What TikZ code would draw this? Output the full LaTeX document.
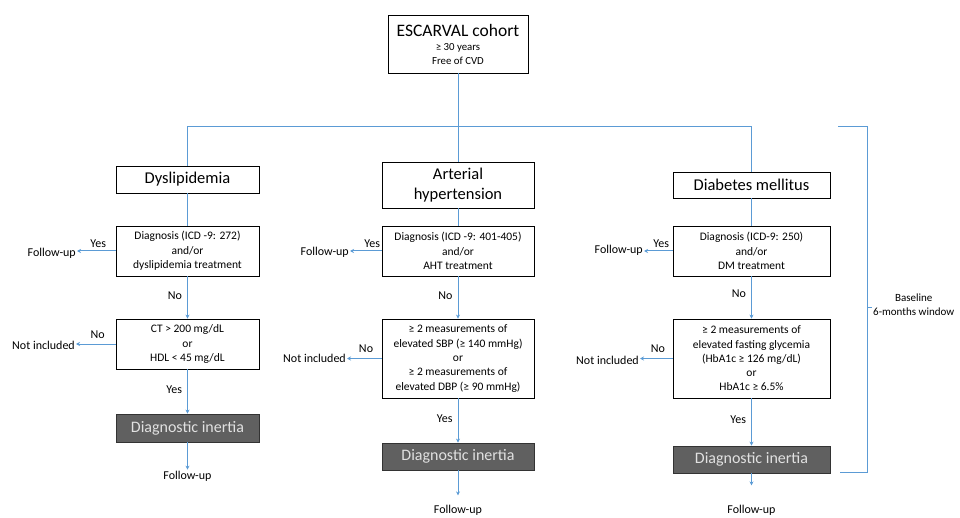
\documentclass[tikz,border=0pt]{standalone}
\usepackage{fontspec}
\setmainfont{Carlito}
\usetikzlibrary{arrows.meta}
\definecolor{lnblue}{RGB}{91,155,213}
\definecolor{digray}{RGB}{96,96,96}
\definecolor{ditext}{RGB}{225,225,225}
\tikzset{
  box/.style={draw=black, line width=0.8pt, fill=white, align=center, inner sep=1pt, font=\fontsize{11.5}{14.3}\selectfont},
  catbox/.style={box, font=\fontsize{16.5}{20}\selectfont},
  dibox/.style={draw=black!80, line width=0.8pt, fill=digray, text=ditext, align=center, inner sep=1pt, font=\fontsize{16}{19}\selectfont},
  lbl/.style={font=\fontsize{12}{14}\selectfont, inner sep=1pt},
  conn/.style={draw=lnblue, line width=1pt},
  arr/.style={conn, -{Stealth[length=4pt,width=4pt]}}
}
\begin{document}
\begin{tikzpicture}[x=1pt,y=-1pt]
\useasboundingbox (0,0) rectangle (960,518);
% top
\node[box, minimum width=140, minimum height=58, font=\fontsize{10.8}{14}\selectfont] (top) at (458,44)
  {{\fontsize{17.5}{19}\selectfont ESCARVAL cohort}\\ ≥ 30 years\\ Free of CVD};
% column 1
\node[catbox, minimum width=143, minimum height=27] (dys) at (187.5,179.5) {Dyslipidemia};
\node[box, minimum width=143, minimum height=50] (dx1) at (187.5,251) {Diagnosis (ICD -9: 272)\\ and/or\\ dyslipidemia treatment};
\node[box, minimum width=143, minimum height=50] (ct) at (187.5,344) {CT > 200 mg/dL\\ or\\ HDL < 45 mg/dL};
\node[dibox, minimum width=143, minimum height=28] (di1) at (187.5,428) {Diagnostic inertia};
\node[lbl] (fu1) at (187.5,476) {Follow-up};
\node[lbl, anchor=east] (fuL1) at (77,253) {Follow-up};
\node[lbl, anchor=east] (ni1) at (76,345) {Not included};
% column 2
\node[catbox, minimum width=152, minimum height=46] (ah) at (458,185) {Arterial\\ hypertension};
\node[box, minimum width=152, minimum height=50] (dx2) at (458,251) {Diagnosis (ICD -9: 401-405)\\ and/or\\ AHT treatment};
\node[box, minimum width=152, minimum height=79] (sbp) at (458,358.5) {≥ 2 measurements of\\ elevated SBP (≥ 140 mmHg)\\ or\\ ≥ 2 measurements of\\ elevated DBP (≥ 90 mmHg)};
\node[dibox, minimum width=152, minimum height=27] (di2) at (458,456.5) {Diagnostic inertia};
\node[lbl] (fu2) at (458,510.5) {Follow-up};
\node[lbl, anchor=east] (fuL2) at (350,252) {Follow-up};
\node[lbl, anchor=east] (ni2) at (347,358) {Not included};
% column 3
\node[catbox, minimum width=157, minimum height=26] (dm) at (751.5,185) {Diabetes mellitus};
\node[box, minimum width=157, minimum height=50] (dx3) at (751.5,251) {Diagnosis (ICD-9: 250)\\ and/or\\ DM treatment};
\node[box, minimum width=157, minimum height=79] (gly) at (751.5,358.5) {≥ 2 measurements of\\ elevated fasting glycemia\\ (HbA1c ≥ 126 mg/dL)\\ or\\ HbA1c ≥ 6.5\%};
\node[dibox, minimum width=157, minimum height=27] (di3) at (751.5,459.5) {Diagnostic inertia};
\node[lbl] (fu3) at (751.5,510) {Follow-up};
\node[lbl, anchor=east] (fuL3) at (644,250) {Follow-up};
\node[lbl, anchor=east] (ni3) at (640,360) {Not included};
% tree connectors
\coordinate (hl) at (187.5,127);
\coordinate (hr) at (751.5,127);
\draw[conn] (top.south) -- (ah.north);
\draw[conn] (dys.north) -- (hl) -- (hr) -- (dm.north);
\draw[conn] (dys.south) -- (dx1.north);
\draw[conn] (ah.south) -- (dx2.north);
\draw[conn] (dm.south) -- (dx3.north);
% column arrows
\draw[arr] (dx1.south) -- node[lbl, left=4pt, pos=0.45] {No} (ct.north);
\draw[arr] (ct.south) -- node[lbl, left=4pt, pos=0.45] {Yes} (di1.north);
\draw[arr] (di1.south) -- (fu1.north);
\draw[arr] (dx2.south) -- node[lbl, left=4pt, pos=0.45] {No} (sbp.north);
\draw[arr] (sbp.south) -- node[lbl, left=4pt, pos=0.45] {Yes} (di2.north);
\draw[arr] (di2.south) -- ++(0,25);
\draw[arr] (dx3.south) -- node[lbl, left=4pt, pos=0.4] {No} (gly.north);
\draw[arr] (gly.south) -- node[lbl, left=4pt, pos=0.45] {Yes} (di3.north);
\draw[arr] (di3.south) -- ++(0,12);
% side arrows
\draw[arr] (dx1.west) -- node[lbl, above=2pt, pos=0.45] {Yes} (fuL1.east |- dx1.west);
\draw[arr] (ct.west) -- node[lbl, above=4pt, pos=0.45] {No} (ni1.east |- ct.west);
\draw[arr] (dx2.west) -- node[lbl, above=2pt, pos=0.3] {Yes} (fuL2.east |- dx2.west);
\draw[arr] (sbp.west) -- node[lbl, above=4pt, pos=0.45] {No} (ni2.east |- sbp.west);
\draw[arr] (dx3.west) -- node[lbl, above=2pt, pos=0.4] {Yes} (fuL3.east |- dx3.west);
\draw[arr] (gly.west) -- node[lbl, above=4pt, pos=0.45] {No} (ni3.east |- gly.west);
% bracket
\coordinate (b1) at (838,127);
\coordinate (b2) at (867,127);
\coordinate (b3) at (867,472);
\coordinate (b4) at (840,472);
\coordinate (bm) at (867,307);
\node[lbl, font=\fontsize{11}{14}\selectfont, align=center, anchor=west] (bl) at (872,305) {Baseline\\ 6-months window};
\draw[conn] (b1) -- (b2) -- (b3) -- (b4);
\draw[conn] (bm) -- (bl.west |- bm);
\end{tikzpicture}
\end{document}
